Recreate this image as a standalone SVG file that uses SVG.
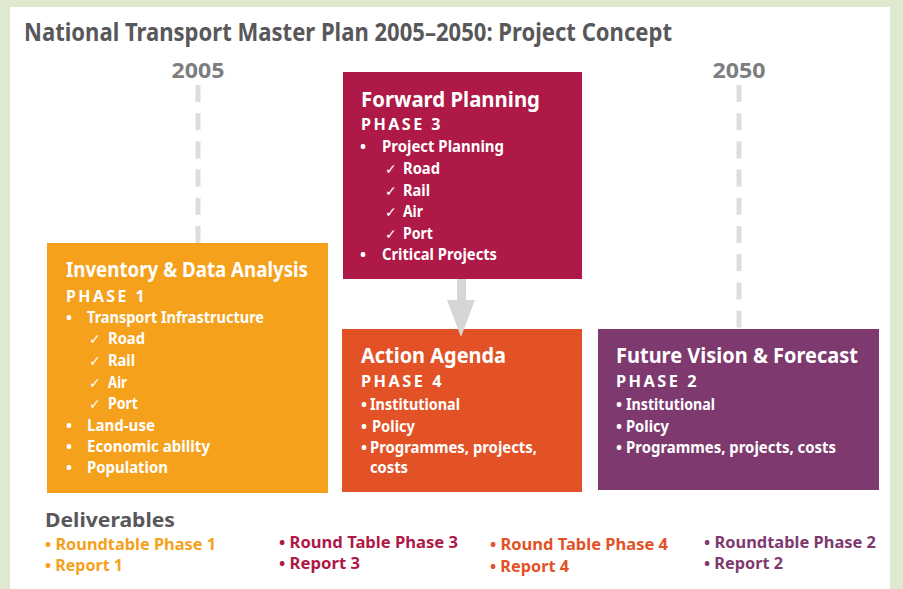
<svg xmlns="http://www.w3.org/2000/svg" width="903" height="589" viewBox="0 0 903 589">
<style>
text{font-family:"Noto Sans","Liberation Sans",sans-serif;font-weight:700}
.w{fill:#ffffff}
.t{font-size:21px}
.ph{font-size:16.5px;letter-spacing:2.5px}
.i{font-size:16px}
.ck{font-family:"DejaVu Sans",sans-serif;font-size:14px;font-weight:700}
.g{fill:#58585a}
.yr{fill:#7d7e80;font-size:22px}
.d{font-size:15.5px}
.o{fill:#f5a11c}.c{fill:#ae1947}.r{fill:#e25226}.p{fill:#7e3a6f}
.dash{stroke:#dcdddf;stroke-width:5;stroke-dasharray:17 11.2;fill:none}
</style>
<rect x="0" y="0" width="903" height="589" fill="#dfe9cf"/>
<rect x="10" y="7" width="880" height="582" fill="#ffffff"/>
<text x="24" y="41" class="g" font-size="25" textLength="648" lengthAdjust="spacingAndGlyphs">National Transport Master Plan 2005–2050: Project Concept</text>
<g id="timeline">
<text x="198" y="78" class="yr" text-anchor="middle" textLength="53" lengthAdjust="spacingAndGlyphs">2005</text>
<text x="739" y="78" class="yr" text-anchor="middle" textLength="53" lengthAdjust="spacingAndGlyphs">2050</text>
<line class="dash" x1="198" y1="85" x2="198" y2="243"/>
<line class="dash" x1="739" y1="85" x2="739" y2="329"/>
</g>
<g id="phase1">
<rect x="47" y="243" width="281" height="250" fill="#f5a11c"/>
<text x="66" y="277" class="w t" textLength="242" lengthAdjust="spacingAndGlyphs">Inventory &amp; Data Analysis</text>
<text x="66" y="302" class="w ph" textLength="81" lengthAdjust="spacingAndGlyphs">PHASE 1</text>
<g class="w i">
<text x="66" y="323">•</text><text x="87" y="323" textLength="177" lengthAdjust="spacingAndGlyphs">Transport Infrastructure</text>
<text x="89" y="344" class="ck">✓</text><text x="108" y="344" textLength="37" lengthAdjust="spacingAndGlyphs">Road</text>
<text x="89" y="366" class="ck">✓</text><text x="108" y="366" textLength="27" lengthAdjust="spacingAndGlyphs">Rail</text>
<text x="89" y="388" class="ck">✓</text><text x="108" y="388" textLength="19" lengthAdjust="spacingAndGlyphs">Air</text>
<text x="89" y="409" class="ck">✓</text><text x="108" y="409" textLength="30" lengthAdjust="spacingAndGlyphs">Port</text>
<text x="66" y="431">•</text><text x="87" y="431" textLength="68" lengthAdjust="spacingAndGlyphs">Land-use</text>
<text x="66" y="452">•</text><text x="87" y="452" textLength="123" lengthAdjust="spacingAndGlyphs">Economic ability</text>
<text x="66" y="473">•</text><text x="87" y="473" textLength="81" lengthAdjust="spacingAndGlyphs">Population</text>
</g>
</g>
<g id="phase3">
<rect x="343" y="72" width="239" height="207" fill="#ae1947"/>
<text x="361" y="107" class="w t" textLength="179" lengthAdjust="spacingAndGlyphs">Forward Planning</text>
<text x="361" y="130" class="w ph" textLength="82" lengthAdjust="spacingAndGlyphs">PHASE 3</text>
<g class="w i">
<text x="360" y="152">•</text><text x="382" y="152" textLength="122" lengthAdjust="spacingAndGlyphs">Project Planning</text>
<text x="385" y="174" class="ck">✓</text><text x="403" y="174" textLength="37" lengthAdjust="spacingAndGlyphs">Road</text>
<text x="385" y="196" class="ck">✓</text><text x="403" y="196" textLength="27" lengthAdjust="spacingAndGlyphs">Rail</text>
<text x="385" y="217" class="ck">✓</text><text x="403" y="217" textLength="20" lengthAdjust="spacingAndGlyphs">Air</text>
<text x="385" y="239" class="ck">✓</text><text x="403" y="239" textLength="30" lengthAdjust="spacingAndGlyphs">Port</text>
<text x="360" y="260">•</text><text x="382" y="260" textLength="115" lengthAdjust="spacingAndGlyphs">Critical Projects</text>
</g>
</g>
<g id="phase4">
<rect x="342" y="329" width="240" height="163" fill="#e25226"/>
<text x="361" y="363" class="w t" textLength="145" lengthAdjust="spacingAndGlyphs">Action Agenda</text>
<text x="361" y="387" class="w ph" textLength="83" lengthAdjust="spacingAndGlyphs">PHASE 4</text>
<g class="w i">
<text x="361" y="410">•</text><text x="370" y="410" textLength="90" lengthAdjust="spacingAndGlyphs">Institutional</text>
<text x="361" y="432">•</text><text x="372" y="432" textLength="43" lengthAdjust="spacingAndGlyphs">Policy</text>
<text x="361" y="453">•</text><text x="370" y="453" textLength="167" lengthAdjust="spacingAndGlyphs">Programmes, projects,</text>
<text x="370" y="473" textLength="38" lengthAdjust="spacingAndGlyphs">costs</text>
</g>
</g>
<g id="phase2">
<rect x="598" y="329" width="281" height="161" fill="#7e3a6f"/>
<text x="616" y="363" class="w t" textLength="242" lengthAdjust="spacingAndGlyphs">Future Vision &amp; Forecast</text>
<text x="616" y="387" class="w ph" textLength="83" lengthAdjust="spacingAndGlyphs">PHASE 2</text>
<g class="w i">
<text x="616" y="410">•</text><text x="626" y="410" textLength="89" lengthAdjust="spacingAndGlyphs">Institutional</text>
<text x="616" y="432">•</text><text x="626" y="432" textLength="43" lengthAdjust="spacingAndGlyphs">Policy</text>
<text x="616" y="453">•</text><text x="626" y="453" textLength="210" lengthAdjust="spacingAndGlyphs">Programmes, projects, costs</text>
</g>
</g>
<g id="connectors">
<polygon points="457,279 466,279 466,300 475,300 461,337 447,300 457,300" fill="#d5d6d8"/>
</g>
<g id="deliverables">
<text x="45" y="527" class="g" font-size="19" textLength="130" lengthAdjust="spacingAndGlyphs">Deliverables</text>
<text x="45" y="550" class="d o" textLength="171" lengthAdjust="spacingAndGlyphs">• Roundtable Phase 1</text>
<text x="45" y="571" class="d o" textLength="78" lengthAdjust="spacingAndGlyphs">• Report 1</text>
<text x="279" y="548" class="d c" textLength="179" lengthAdjust="spacingAndGlyphs">• Round Table Phase 3</text>
<text x="279" y="569" class="d c" textLength="81" lengthAdjust="spacingAndGlyphs">• Report 3</text>
<text x="490" y="550" class="d r" textLength="178" lengthAdjust="spacingAndGlyphs">• Round Table Phase 4</text>
<text x="490" y="572" class="d r" textLength="79" lengthAdjust="spacingAndGlyphs">• Report 4</text>
<text x="704" y="548" class="d p" textLength="172" lengthAdjust="spacingAndGlyphs">• Roundtable Phase 2</text>
<text x="704" y="569" class="d p" textLength="79" lengthAdjust="spacingAndGlyphs">• Report 2</text>
</g>
</svg>
